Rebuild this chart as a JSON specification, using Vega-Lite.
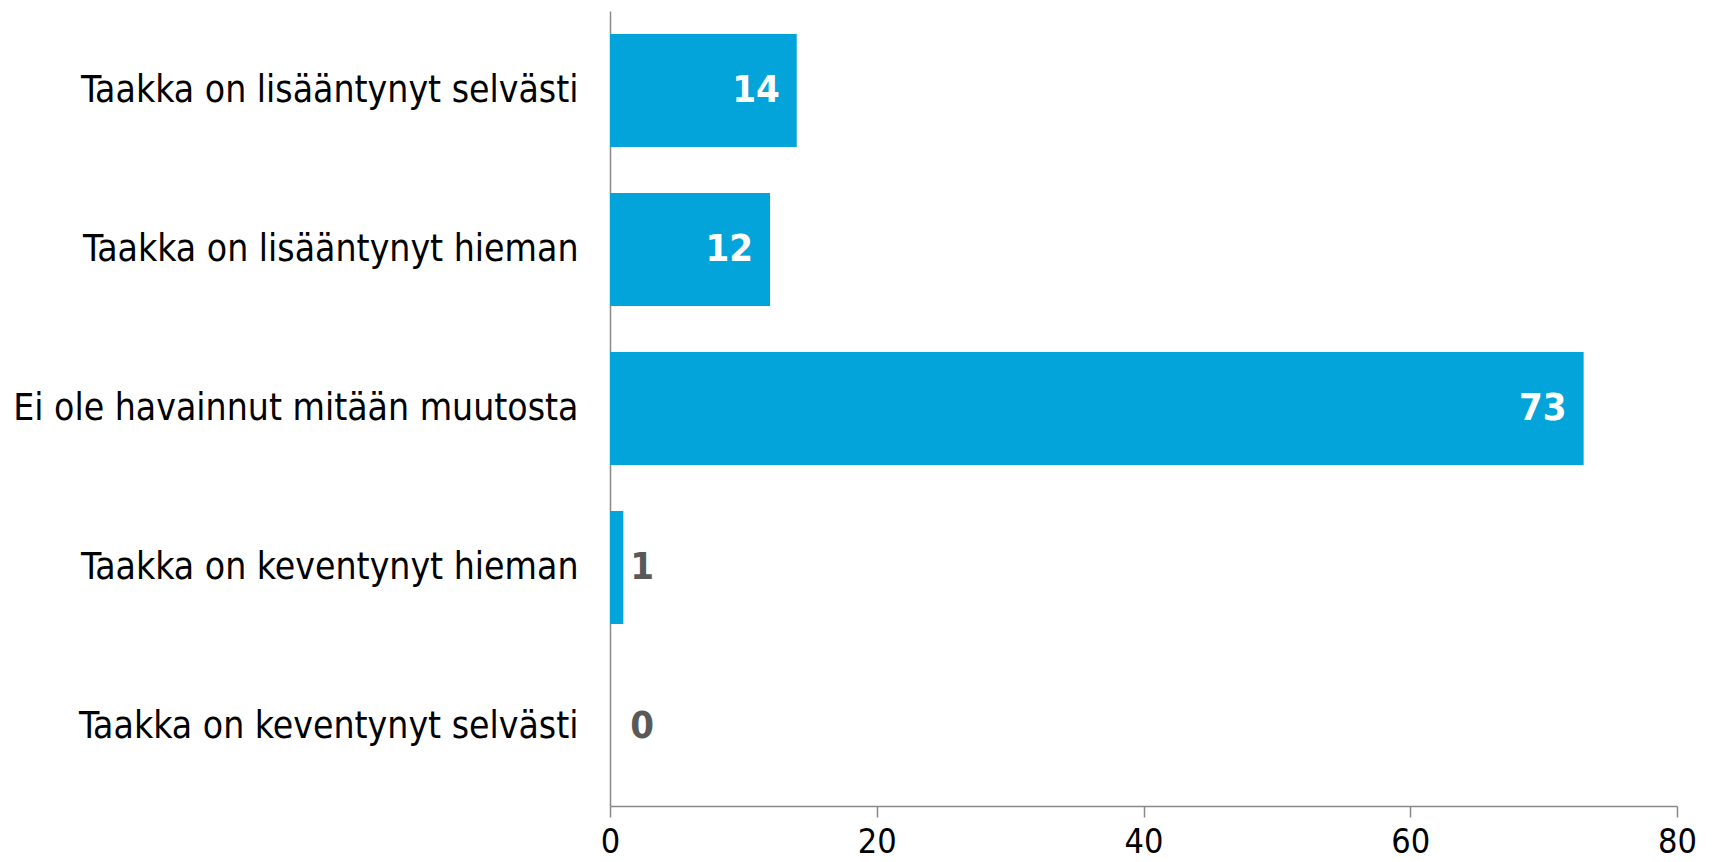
{
  "$schema": "https://vega.github.io/schema/vega-lite/v6.json",
  "width": 1067,
  "height": 795,
  "autosize": {"type": "none"},
  "padding": {"left": 610, "top": 11, "right": 35, "bottom": 56},
  "background": "white",
  "config": {
    "view": {"stroke": null},
    "font": "DejaVu Sans Condensed"
  },
  "data": {
    "values": [
      {"category": "Taakka on lisääntynyt selvästi", "value": 14},
      {"category": "Taakka on lisääntynyt hieman", "value": 12},
      {"category": "Ei ole havainnut mitään muutosta", "value": 73},
      {"category": "Taakka on keventynyt hieman", "value": 1},
      {"category": "Taakka on keventynyt selvästi", "value": 0}
    ]
  },
  "encoding": {
    "y": {
      "field": "category",
      "type": "nominal",
      "sort": null,
      "scale": {"paddingInner": 0.29},
      "axis": {
        "title": null,
        "ticks": false,
        "domainColor": "#898989",
        "domainWidth": 1.5,
        "labelFont": "DejaVu Sans Condensed",
        "labelFontSize": 37,
        "labelColor": "#000000",
        "labelPadding": 32,
        "labelLimit": 700
      }
    },
    "x": {
      "field": "value",
      "type": "quantitative",
      "scale": {"domain": [0, 80], "nice": false},
      "axis": {
        "title": null,
        "values": [0, 20, 40, 60, 80],
        "grid": false,
        "domainColor": "#898989",
        "domainWidth": 1.5,
        "tickColor": "#898989",
        "tickWidth": 1.5,
        "tickSize": 11,
        "labelFont": "DejaVu Sans Condensed",
        "labelFontSize": 34,
        "labelColor": "#000000",
        "labelPadding": 8,
        "labelFlush": false
      }
    }
  },
  "layer": [
    {"mark": {"type": "bar", "color": "#02a4da"}},
    {
      "transform": [{"filter": "datum.value >= 5"}],
      "mark": {"type": "text", "align": "right", "baseline": "middle", "dx": -17, "fontWeight": "bold", "fontSize": 38, "color": "#ffffff"},
      "encoding": {"text": {"field": "value", "type": "quantitative"}}
    },
    {
      "transform": [{"filter": "datum.value < 5"}],
      "mark": {"type": "text", "align": "left", "baseline": "middle", "dx": 7, "fontWeight": "bold", "fontSize": 38, "color": "#595959"},
      "encoding": {"text": {"field": "value", "type": "quantitative"}, "x": {"datum": 1}}
    }
  ]
}
